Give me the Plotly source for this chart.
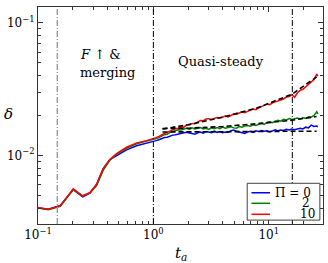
import plotly.graph_objects as go

# ---------------- data ----------------
t_early = [0.100, 0.123, 0.156, 0.202, 0.244, 0.282, 0.322, 0.367, 0.420, 0.480, 0.586, 0.716, 0.875]
blue_early = [4.03, 3.92, 4.18, 5.50, 4.85, 5.18, 6.02, 7.95, 9.30, 10.0, 11.0, 11.8, 12.3]
green_early = [4.00, 3.88, 4.12, 5.52, 4.95, 5.20, 5.92, 7.70, 9.20, 10.2, 11.3, 12.2, 12.8]
red_early = [4.03, 3.92, 4.15, 5.58, 4.93, 5.24, 6.05, 7.90, 9.30, 10.3, 11.5, 12.4, 12.9]

t_late = [1.000, 1.057, 1.117, 1.180, 1.247, 1.318, 1.393, 1.472, 1.556, 1.644,
          1.738, 1.837, 1.941, 2.051, 2.168, 2.291, 2.421, 2.559, 2.704, 2.858,
          3.020, 3.192, 3.373, 3.565, 3.767, 3.981, 4.207, 4.446, 4.699, 4.966,
          5.248, 5.546, 5.861, 6.194, 6.546, 6.918, 7.311, 7.727, 8.166, 8.630,
          9.120, 9.638, 10.19, 10.76, 11.38, 12.02, 12.71, 13.43, 14.19, 15.00,
          15.85, 16.75, 17.70, 18.71, 19.77, 20.89, 22.08, 23.33, 24.66, 26.06, 26.6]
blue_late = [12.6, 12.9, 13.1, 13.4, 13.6, 13.7, 14.0, 14.2, 14.3, 14.5,
             14.6, 14.8, 14.9, 14.7, 14.5, 14.4, 14.8, 15.0, 14.7, 15.1,
             15.0, 14.8, 15.2, 14.9, 15.1, 14.8, 15.0, 14.9, 15.3, 15.5,
             15.2, 15.0, 14.7, 14.6, 15.0, 15.2, 14.9, 15.3, 15.1, 15.4,
             15.2, 15.3, 15.0, 15.4, 15.6, 15.3, 15.5, 15.4, 15.7, 15.5,
             15.8, 15.6, 15.9, 16.0, 15.8, 16.3, 16.1, 16.9, 16.5, 16.6, 16.4]
green_late = [13.1, 13.4, 13.6, 14.0, 14.3, 14.4, 14.9, 15.1, 15.3, 15.6,
              15.5, 15.8, 16.0, 15.7, 16.1, 15.8, 15.9, 16.2, 15.8, 16.0,
              15.7, 16.1, 15.9, 16.2, 15.9, 16.3, 16.0, 16.2, 16.4, 16.1,
              16.0, 16.5, 16.3, 16.6, 16.8, 16.6, 17.0, 16.8, 17.2, 17.4,
              17.1, 17.7, 17.9, 17.6, 18.1, 18.4, 18.1, 18.7, 18.5, 18.9,
              18.6, 18.8, 19.1, 18.8, 19.2, 19.0, 19.5, 19.4, 20.0, 21.3, 20.5]
red_late = [13.3, 13.6, 13.9, 14.3, 14.6, 14.9, 15.3, 15.5, 15.9, 16.0,
            16.4, 16.3, 16.9, 17.0, 17.4, 17.3, 17.9, 18.3, 18.2, 18.8,
            18.9, 18.6, 19.0, 19.3, 19.1, 19.4, 19.8, 19.5, 20.1, 20.5,
            20.4, 20.9, 21.3, 21.0, 21.6, 21.9, 22.3, 22.1, 22.8, 23.2,
            23.6, 24.3, 24.1, 24.9, 25.3, 25.7, 26.4, 26.6, 27.5, 27.8,
            28.6, 27.4, 29.6, 30.9, 31.5, 33.0, 34.2, 35.6, 37.3, 41.0, 39.6]

fit_t = [1.20, 2.0, 4.0, 8.0, 16.0, 26.0]
blue_fit = [15.0, 15.0, 15.1, 15.1, 15.2, 15.2]
green_fit = [15.9, 16.0, 16.5, 17.3, 18.4, 19.6]
red_fit = [15.8, 17.0, 19.4, 22.8, 29.0, 39.0]

series_names = ["\u03a0 = 0", "2", "10"]
series_colors = ["#0000ff", "#008000", "#ff0000"]
phase_bounds = [0.147, 1.0, 16.0]
phase_colors = ["#9a9a9a", "#000000", "#000000"]

x_tickvals = [0.1, 1, 10]
x_ticktext = ["10<sup>\u22121</sup>", "10<sup>0</sup>", "10<sup>1</sup>"]
y_tickvals = [0.01, 0.1]
y_ticktext = ["10<sup>\u22122</sup>", "10<sup>\u22121</sup>"]
x_minor = [0.2, 0.3, 0.4, 0.5, 0.6, 0.7, 0.8, 0.9, 2, 3, 4, 5, 6, 7, 8, 9, 20, 30]
y_minor = [0.004, 0.005, 0.006, 0.007, 0.008, 0.009, 0.02, 0.03, 0.04, 0.05, 0.06, 0.07, 0.08, 0.09]

t_all = t_early + t_late
series = [
    [v * 1e-3 for v in blue_early + blue_late],
    [v * 1e-3 for v in green_early + green_late],
    [v * 1e-3 for v in red_early + red_late],
]
fits = [[v * 1e-3 for v in f] for f in (blue_fit, green_fit, red_fit)]

FONT = "DejaVu Serif"
fig = go.Figure()

for name, col, ys in zip(series_names, series_colors, series):
    fig.add_trace(go.Scatter(x=t_all, y=ys, mode="lines", name=name,
                             line=dict(color=col, width=1.5), showlegend=False))
for f in fits:
    fig.add_trace(go.Scatter(x=fit_t, y=f, mode="lines",
                             line=dict(color="black", width=1.6, dash="5px,3px"),
                             showlegend=False))

for xb, col in zip(phase_bounds, phase_colors):
    fig.add_shape(type="line", xref="x", yref="paper", x0=xb, x1=xb, y0=0, y1=1,
                  line=dict(color=col, width=1 if col == "#000000" else 1.4,
                            dash="6px,2px,1px,2px"))

# legend box (manual)
lx0, lx1, ly0, ly1 = 0.734, 0.989, 0.018, 0.1876
fig.add_shape(type="rect", xref="paper", yref="paper", x0=lx0, x1=lx1, y0=ly0, y1=ly1,
              line=dict(color="#404040", width=1), fillcolor="white", layer="above")
leg_y = [0.144, 0.0954, 0.0447]
leg_xr = [0.965, 0.962, 0.98]
for name, col, yy, xr in zip(series_names, series_colors, leg_y, leg_xr):
    fig.add_shape(type="line", xref="paper", yref="paper", x0=0.749, x1=0.814,
                  y0=yy, y1=yy, line=dict(color=col, width=1.5), layer="above")
    fig.add_annotation(x=xr, y=yy, xref="paper", yref="paper", text=name,
                       showarrow=False, xanchor="right", yanchor="middle",
                       font=dict(family=FONT, size=12, color="black"))

# phase labels
fig.add_annotation(x=0.1404, y=0.779, xref="paper", yref="paper",
                   text="<i>F</i> \u2191 &amp;", showarrow=False, xanchor="left",
                   yanchor="middle", font=dict(family=FONT, size=13, color="black"))
fig.add_annotation(x=0.1404, y=0.700, xref="paper", yref="paper",
                   text="merging", showarrow=False, xanchor="left",
                   yanchor="middle", font=dict(family=FONT, size=13, color="black"))
fig.add_annotation(x=0.642, y=0.747, xref="paper", yref="paper",
                   text="Quasi-steady", showarrow=False, xanchor="center",
                   yanchor="middle", font=dict(family=FONT, size=13, color="black"))
# y label
fig.add_annotation(x=-0.105, y=0.505, xref="paper", yref="paper",
                   text="<i>\u03b4</i>", showarrow=False, xanchor="center",
                   yanchor="middle", font=dict(family=FONT, size=15, color="black"))
# x label
fig.add_annotation(x=0.5, y=-0.083, xref="paper", yref="paper",
                   text="<i>t</i><sub><i>a</i></sub>", showarrow=False, xanchor="center",
                   yanchor="top", font=dict(family=FONT, size=15, color="black"))

axis_common = dict(type="log", showgrid=False, zeroline=False, showline=True,
                   linecolor="#333333", linewidth=1, mirror="allticks",
                   ticks="inside", ticklen=5, tickcolor="#333333", tickwidth=1,
                   automargin=False,
                   tickfont=dict(family=FONT, size=12, color="black"))

fig.update_xaxes(**axis_common, range=[-1, 1.47], tickmode="array",
                 tickvals=x_tickvals, ticktext=x_ticktext,
                 minor=dict(tickmode="array", tickvals=x_minor, ticks="inside",
                            ticklen=3, tickcolor="#333333"))
fig.update_yaxes(**axis_common, range=[-2.518, -0.8816], tickmode="array",
                 tickvals=y_tickvals, ticktext=y_ticktext,
                 minor=dict(tickmode="array", tickvals=y_minor, ticks="inside",
                            ticklen=3, tickcolor="#333333"))

fig.update_layout(width=328, height=263, margin=dict(l=38, r=5, t=7, b=39),
                  paper_bgcolor="white", plot_bgcolor="white", showlegend=False)

fig.write_html("out.html", config={"displayModeBar": False},
               post_script="document.body.style.margin='0px';document.body.style.padding='0px';document.body.style.overflow='hidden';")
